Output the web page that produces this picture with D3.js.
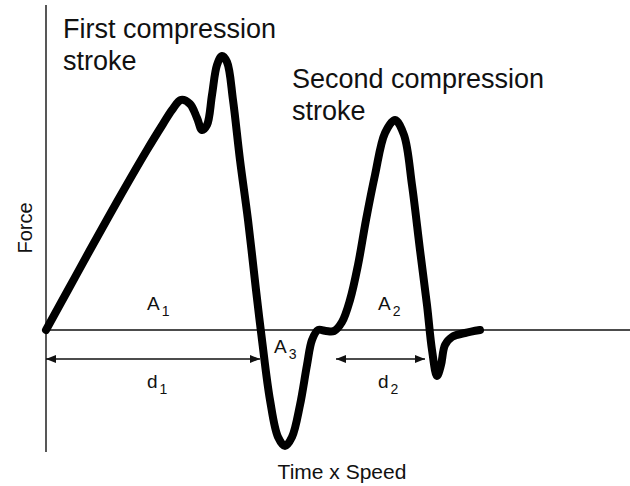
<!DOCTYPE html>
<html><head><meta charset="utf-8">
<script src="https://cdn.jsdelivr.net/npm/d3@7"></script>
<style>body{margin:0;background:#fff}svg{display:block}text{font-family:Arial,"Liberation Sans",Helvetica,sans-serif;fill:#111}</style>
</head><body><svg id="c" width="630" height="486"></svg>
<script>
// Force vs Time x Speed trace (arbitrary units)
const timeSpeed = [0,5.5,11,18,25.25,29.25,31.5,33.75,36,37.75,39,40.25,41.5,42.75,44,45.25,46.75,48.5,50.5,52.5,54,56,58,59.75,61.5,63.5,65.25,66.5,68,70,72,74,76,78,80,82.25,84.75,87.25,89.5,91.5,93.5,95.25,96.5,97.75,98.75,99.75,101.5,104.75,108.5];
const force = [0,10,20,32.5,45,51.5,55,57.5,56.5,53,50,51.25,58.75,66.25,68.5,67,57.5,42.5,27.5,10,-2.5,-17.5,-26.75,-29,-26.75,-18.75,-8.75,-2.5,0,-0.25,-0.25,2,7.5,16.25,27.5,38.75,49.25,52.5,48.75,36.25,20,6.25,-5,-11.5,-8.75,-3.75,-1.75,-0.75,0];
// dimension arrows (start, end) at a force level
const arrowNames = ["d1","d2"];
const arrowStart = [0,72.5];
const arrowEnd = [53.5,94.75];
const arrowLevel = -7.25;
// area / distance labels
const labelMain = ["A","A","A","d","d"];
const labelSub = ["1","2","3","1","2"];
const labelX = [25.25,83,57,25.25,83];
const labelY = [5,5,-5.75,-14.5,-14.5];

const svg = d3.select("#c");
const x = d3.scaleLinear().domain([0,146]).range([46,630]);
const y = d3.scaleLinear().domain([-30.5,81.25]).range([452,5]);

// axes
svg.append("line").attr("x1",x(0)).attr("x2",x(0)).attr("y1",y(81.25)).attr("y2",y(-30.5)).attr("stroke","#111").attr("stroke-width",1.4);
svg.append("line").attr("x1",x(0)).attr("x2",x(146)).attr("y1",y(0)).attr("y2",y(0)).attr("stroke","#111").attr("stroke-width",1.4);

// arrow marker defs
const defs = svg.append("defs");
defs.append("marker").attr("id","ah").attr("viewBox","0 0 10 8").attr("refX",10).attr("refY",4)
 .attr("markerWidth",10).attr("markerHeight",8).attr("markerUnits","userSpaceOnUse").attr("orient","auto-start-reverse")
 .append("path").attr("d","M0,0L10,4L0,8Z").attr("fill","#111");

arrowNames.forEach((n,i)=>{
  svg.append("line").attr("x1",x(arrowStart[i])).attr("x2",x(arrowEnd[i]))
   .attr("y1",y(arrowLevel)).attr("y2",y(arrowLevel)).attr("stroke","#111").attr("stroke-width",1.5)
   .attr("marker-start","url(#ah)").attr("marker-end","url(#ah)");
});

// curve
const pts = timeSpeed.map((t,i)=>[t,force[i]]);
const line = d3.line().x(d=>x(d[0])).y(d=>y(d[1])).curve(d3.curveCatmullRom.alpha(0.5));
svg.append("path").attr("d",line(pts)).attr("fill","none").attr("stroke","#000")
 .attr("stroke-width",8).attr("stroke-linejoin","round").attr("stroke-linecap","round");

// labels
labelMain.forEach((m,i)=>{
  const t = svg.append("text").attr("x",x(labelX[i])).attr("y",y(labelY[i])).attr("font-size",19);
  t.append("tspan").text(m);
  t.append("tspan").attr("font-size",14).attr("dx",2).attr("dy",6).text(labelSub[i]);
});

// titles
const t1 = svg.append("text").attr("x",63).attr("y",38).attr("font-size",27);
t1.append("tspan").attr("x",63).text("First compression");
t1.append("tspan").attr("x",63).attr("dy",32).text("stroke");
const t2 = svg.append("text").attr("x",292).attr("y",88).attr("font-size",27);
t2.append("tspan").attr("x",292).text("Second compression");
t2.append("tspan").attr("x",292).attr("dy",32).text("stroke");

svg.append("text").attr("x",342).attr("y",479).attr("text-anchor","middle").attr("font-size",21).text("Time x Speed");
svg.append("text").attr("transform","translate(32,228) rotate(-90)").attr("text-anchor","middle").attr("font-size",20).text("Force");
</script></body></html>
